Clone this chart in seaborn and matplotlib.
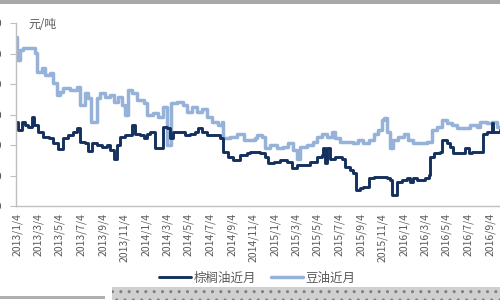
import numpy as np
import pandas as pd
import matplotlib
matplotlib.use("Agg")
import matplotlib.pyplot as plt
import matplotlib.dates as mdates
from matplotlib.patches import Rectangle
import seaborn as sns

# ---------------- data ----------------
start_date = "2013-01-04"
# days since 2013-01-04 / price (元/吨)
palm_days = [0, 4, 13, 23, 32, 42, 48, 60, 74, 89, 103, 117, 131, 145, 159, 169, 178, 193, 202, 211,
             226, 240, 254, 263, 275, 282, 292, 306, 320, 326, 334, 348, 358, 367, 377, 391, 410, 414,
             424, 433, 442, 466, 476, 490, 504, 513, 523, 537, 561, 575, 584, 598, 612, 631, 650, 660,
             688, 702, 711, 726, 745, 763, 778, 792, 811, 829, 848, 863, 867, 872, 878, 886, 900, 919,
             929, 943, 952, 960, 971, 980, 990, 995, 1009, 1028, 1047, 1056, 1061, 1070, 1075, 1089,
             1103, 1113, 1122, 1132, 1155, 1165, 1169, 1179, 1198, 1202, 1216, 1226, 1235, 1259, 1268,
             1278, 1287, 1311, 1320, 1330, 1344, 1348, 1367]
palm_price = [5770, 5490, 5770, 5660, 5600, 5930, 5660, 5440, 5270, 5220, 5060, 4870, 5220, 5330, 5440,
              5550, 5110, 5060, 4800, 5060, 5000, 4950, 5000, 4840, 4560, 5000, 5270, 5330, 5330, 5660,
              5380, 5330, 5220, 5380, 5440, 4890, 4890, 5600, 5550, 5220, 5440, 5440, 5330, 5380, 5440,
              5550, 5440, 5330, 5330, 5220, 4780, 4620, 4510, 4670, 4730, 4780, 4730, 4620, 4400, 4450,
              4510, 4450, 4240, 4340, 4340, 4450, 4620, 4670, 4890, 4400, 4890, 4560, 4620, 4560, 4290,
              4180, 4070, 3520, 3580, 3630, 3630, 3910, 3960, 3960, 3910, 3850, 3360, 3360, 3800, 3850,
              3910, 3800, 3910, 3850, 3910, 4020, 4620, 4730, 4780, 5160, 5060, 4950, 4730, 4730, 4890,
              4730, 4780, 4780, 5380, 5440, 5710, 5440, 5490]

soy_days = [0, 1, 8, 18, 46, 51, 56, 70, 79, 93, 103, 112, 122, 131, 150, 169, 178, 193, 202, 209,
            221, 226, 235, 249, 263, 273, 287, 296, 306, 315, 325, 339, 358, 367, 386, 400, 414, 424,
            431, 435, 452, 471, 480, 495, 509, 523, 537, 551, 570, 580, 584, 603, 622, 641, 660, 674,
            679, 693, 702, 716, 735, 754, 768, 782, 792, 801, 820, 839, 848, 863, 877, 891, 900, 914,
            933, 952, 966, 980, 995, 1009, 1023, 1032, 1039, 1047, 1056, 1065, 1079, 1094, 1108, 1122,
            1141, 1160, 1174, 1188, 1202, 1216, 1231, 1245, 1263, 1282, 1301, 1311, 1330, 1344, 1358,
            1367]
soy_price = [8540, 7790, 8120, 8170, 8170, 8020, 7400, 7520, 7300, 7350, 7020, 6640, 6750, 6860, 6800,
             6910, 6310, 6700, 6530, 5770, 5770, 6530, 6700, 6590, 6640, 6420, 6590, 6310, 5990, 6800,
             6700, 6480, 6370, 5990, 6040, 5930, 6260, 5000, 5000, 6370, 6420, 6310, 6090, 6260, 6090,
             6200, 5930, 5770, 5660, 5770, 5220, 5270, 5380, 5160, 5160, 5220, 5330, 5270, 4890, 5000,
             4890, 4950, 5060, 4840, 4560, 4950, 5000, 5110, 5270, 5380, 5270, 5440, 5220, 5110, 5110,
             5060, 5160, 5060, 5160, 5380, 5490, 5820, 5880, 5440, 4890, 5160, 5270, 5380, 5160, 5060,
             5060, 5110, 5490, 5600, 5820, 5710, 5660, 5550, 5550, 5660, 5600, 5770, 5710, 5770, 5600,
             5550]

series_names = ["棕榈油近月", "豆油近月"]
tick_labels = ["2013/1/4", "2013/3/4", "2013/5/4", "2013/7/4", "2013/9/4", "2013/11/4",
               "2014/1/4", "2014/3/4", "2014/5/4", "2014/7/4", "2014/9/4", "2014/11/4",
               "2015/1/4", "2015/3/4", "2015/5/4", "2015/7/4", "2015/9/4", "2015/11/4",
               "2016/1/4", "2016/3/4", "2016/5/4", "2016/7/4", "2016/9/4"]
y_ticks = [3000, 4000, 5000, 6000, 7000, 8000, 9000]
unit_label = "元/吨"

# ---------------- build frames ----------------
base = pd.Timestamp(start_date)
palm_df = pd.DataFrame({"date": base + pd.to_timedelta(palm_days, unit="D"),
                        "price": palm_price, "series": series_names[0]})
soy_df = pd.DataFrame({"date": base + pd.to_timedelta(soy_days, unit="D"),
                       "price": soy_price, "series": series_names[1]})

sns.set_style("white")
plt.rcParams["font.family"] = ["Noto Sans CJK SC", "DejaVu Sans"]

text_gray = "#595959"
axis_gray = "#bfbfbf"
palm_color = "#14305e"
soy_color = "#96b2d9"

fig = plt.figure(figsize=(5, 3), dpi=100)
ax = fig.add_axes([0.032, 0.313, 0.968, 0.61])

sns.lineplot(data=soy_df, x="date", y="price", ax=ax, color=soy_color, linewidth=2.5,
             drawstyle="steps-post", label=series_names[1], legend=False)
sns.lineplot(data=palm_df, x="date", y="price", ax=ax, color=palm_color, linewidth=2.1,
             drawstyle="steps-post", label=series_names[0], legend=False)

ax.set_xlim(base - pd.Timedelta(days=3), base + pd.Timedelta(days=1367))
ax.set_ylim(y_ticks[0], y_ticks[-1])
ax.set_yticks(y_ticks)
ax.set_yticklabels([str(v) for v in y_ticks])
tick_dates = [pd.Timestamp(s.replace("/", "-")) for s in tick_labels]
ax.set_xticks(tick_dates)
ax.set_xticklabels(tick_labels, rotation=90, fontsize=7.5, color=text_gray)
ax.tick_params(axis="y", labelsize=8, labelcolor=text_gray, length=4, color=axis_gray,
               direction="out", pad=6, left=True)
ax.tick_params(axis="x", length=0, pad=5)
ax.set_xlabel("")
ax.set_ylabel("")
for side in ["top", "right"]:
    ax.spines[side].set_visible(False)
for side in ["left", "bottom"]:
    ax.spines[side].set_color(axis_gray)
    ax.spines[side].set_linewidth(1.0)
ax.grid(False)

fig.text(0.056, 0.918, unit_label, fontsize=8.5, color=text_gray, ha="left", va="center")

handles, labels = ax.get_legend_handles_labels()
order = [labels.index(n) for n in series_names]
fig.legend([handles[i] for i in order], [labels[i] for i in order],
           loc="center", bbox_to_anchor=(0.515, 0.073), ncol=2, frameon=False,
           fontsize=9, labelcolor=text_gray, handlelength=2.5, handletextpad=0.25,
           columnspacing=1.2)

# screenshot frame artefacts
fig.add_artist(Rectangle((0, 0.988), 1, 0.012, transform=fig.transFigure,
                         facecolor="#a8a8a8", edgecolor="none"))
fig.add_artist(Rectangle((0.224, 0.0), 0.776, 0.043, transform=fig.transFigure,
                         facecolor="#d0d0d0", edgecolor="#7f7f7f", hatch="..", linewidth=0))
fig.add_artist(Rectangle((0, 0.005), 0.21, 0.008, transform=fig.transFigure,
                         facecolor="#b0b0b0", edgecolor="none"))

fig.savefig("out.png", dpi=100, facecolor="white")
